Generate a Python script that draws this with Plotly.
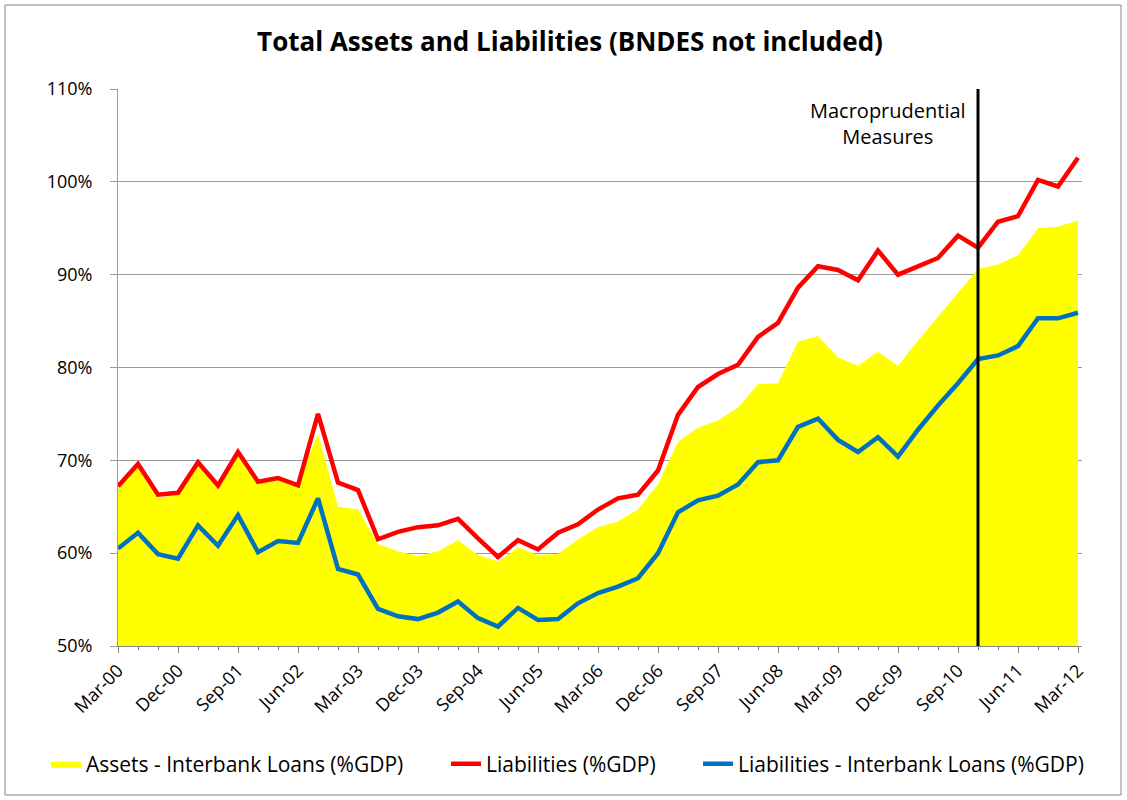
import plotly.graph_objects as go

quarters = [f"{m}-{y:02d}" for y in range(0, 13) for m in ["Mar", "Jun", "Sep", "Dec"]][:49]

liabilities = [67.2, 69.6, 66.3, 66.5, 69.8, 67.3, 70.9, 67.7, 68.1, 67.3,
               75.0, 67.6, 66.8, 61.5, 62.3, 62.8, 63.0, 63.7, 61.6, 59.6,
               61.4, 60.4, 62.2, 63.1, 64.7, 65.9, 66.3, 68.9, 74.9, 77.9,
               79.3, 80.3, 83.3, 84.8, 88.6, 90.9, 90.5, 89.4, 92.6, 90.0,
               90.9, 91.8, 94.2, 92.9, 95.7, 96.3, 100.2, 99.5, 102.6]

liab_ex_interbank = [60.5, 62.2, 59.9, 59.4, 63.0, 60.8, 64.1, 60.1, 61.3, 61.1,
                     65.9, 58.3, 57.7, 54.0, 53.2, 52.9, 53.6, 54.8, 53.0, 52.1,
                     54.1, 52.8, 52.9, 54.6, 55.7, 56.4, 57.3, 60.0, 64.4, 65.7,
                     66.2, 67.4, 69.8, 70.0, 73.6, 74.5, 72.2, 70.9, 72.5, 70.4,
                     73.3, 75.9, 78.3, 80.9, 81.3, 82.3, 85.3, 85.3, 85.9]

assets_ex_interbank = [66.9, 69.3, 66.0, 66.2, 69.5, 67.0, 70.6, 67.4, 68.3, 67.6,
                       72.9, 65.0, 64.7, 61.0, 60.2, 59.7, 60.2, 61.4, 59.8, 59.1,
                       60.6, 59.8, 59.9, 61.5, 62.8, 63.4, 64.7, 67.4, 72.0, 73.5,
                       74.3, 75.7, 78.2, 78.3, 82.8, 83.4, 81.1, 80.2, 81.7, 80.2,
                       82.9, 85.5, 88.0, 90.6, 91.1, 92.1, 95.0, 95.2, 95.8]

tick_labels = ["Mar-00", "Dec-00", "Sep-01", "Jun-02", "Mar-03", "Dec-03", "Sep-04",
               "Jun-05", "Mar-06", "Dec-06", "Sep-07", "Jun-08", "Mar-09", "Dec-09",
               "Sep-10", "Jun-11", "Mar-12"]

measures_quarter = "Dec-10"

x = list(range(len(quarters)))
tickvals = [quarters.index(t) for t in tick_labels]
xm = quarters.index(measures_quarter)

font = "'Open Sans', sans-serif"

W, H = 1127, 800
l, r, t, b = 118, 45, 89, 154
pw, ph = W - l - r, H - t - b

fig = go.Figure()
fig.add_trace(go.Scatter(x=x, y=assets_ex_interbank, name="Assets - Interbank Loans (%GDP)",
                         mode="lines", fill="tozeroy", fillcolor="#FFFF00",
                         line=dict(color="#FFFF00", width=0), legendwidth=355))
fig.add_trace(go.Scatter(x=x, y=liabilities, name="Liabilities (%GDP)",
                         mode="lines", line=dict(color="#FF0000", width=4.5), legendwidth=207))
fig.add_trace(go.Scatter(x=x, y=liab_ex_interbank, name="Liabilities - Interbank Loans (%GDP)",
                         mode="lines", line=dict(color="#0070C0", width=4.5)))

fig.add_shape(type="line", x0=xm, x1=xm, y0=50, y1=110, xref="x", yref="y",
              line=dict(color="black", width=3))
fig.add_annotation(x=xm - 4.5, y=106.3, xref="x", yref="y",
                   text="Macroprudential<br>Measures", showarrow=False,
                   font=dict(size=20, color="black", family=font))

# outer chart frame
fig.add_shape(type="rect", xref="paper", yref="paper",
              x0=(5 - l) / pw, x1=(1121 - l) / pw,
              y0=(H - 795 - b) / ph, y1=(H - 5 - b) / ph,
              line=dict(color="#868686", width=1))

fig.update_layout(
    width=W, height=H,
    margin=dict(l=l, r=r, t=t, b=b),
    paper_bgcolor="white", plot_bgcolor="white",
    font=dict(family=font, color="black"),
    title=dict(text="<b>Total Assets and Liabilities (BNDES not included)</b>",
               x=570 / W, xref="container", xanchor="center", y=1 - 42 / H, yanchor="middle",
               font=dict(size=26, family=font)),
    legend=dict(orientation="h", x=(52 - 6 - l) / pw, xanchor="left",
                y=(H - b - 764) / ph, yanchor="middle",
                font=dict(size=21, family=font), bgcolor="rgba(0,0,0,0)", itemwidth=30),
)
fig.update_xaxes(range=[0, pw / 20], tickmode="array", tickvals=tickvals, ticktext=tick_labels,
                 tickangle=-45, tickfont=dict(size=18), showgrid=False,
                 showline=True, linecolor="#868686", linewidth=1,
                 ticks="outside", ticklen=6, tickcolor="#868686",
                 minor=dict(ticks="outside", ticklen=3, tickcolor="#7b68a6", dtick=1, tick0=0))
fig.update_yaxes(range=[50, 110], dtick=10, ticksuffix="%", tickfont=dict(size=18),
                 showgrid=True, gridcolor="#9a9a9a", gridwidth=1,
                 showline=True, linecolor="#9a9a9a", linewidth=1,
                 ticks="outside", ticklen=7, tickcolor="#9a9a9a", zeroline=False,
                 ticklabelstandoff=14)

fig.write_html("out.html", config={"displayModeBar": False},
               post_script="document.body.style.margin='0';")
